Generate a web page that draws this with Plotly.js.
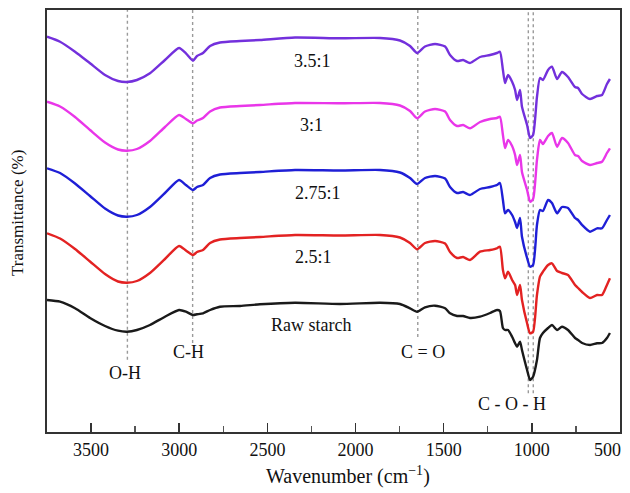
<!DOCTYPE html>
<html>
<head>
<meta charset="utf-8">
<script src="https://cdn.plot.ly/plotly-3.0.1.min.js"></script>
<style>html,body{margin:0;padding:0;background:#fff;}#chart{width:630px;height:493px;}</style>
</head>
<body>
<div id="chart"></div>
<script>
// Wavenumber (cm^-1) sampling shared by all spectra
const wavenumber = [3750,3676,3591,3506,3421,3347,3296,3240,3166,3081,3001,2962,2922,2899,2865,2825,2769,2655,2542,2343,2088,1861,1748,1691,1651,1606,1549,1492,1464,1424,1390,1351,1294,1237,1198,1181,1164,1152,1135,1112,1095,1084,1067,1056,1027,1010,993,971,954,937,908,886,857,829,795,755,738,715,670,630,602,574,557];

// Transmittance (offset, arbitrary units)
const t_35 = [395.3,390.3,380.3,368.7,357,351,350,352,358.7,372,384,378.7,371.3,376,379,386,389.5,391,392,394.5,393.7,394,391.5,386,379,385.5,388,385.5,377,371,372,369,375,377,379,380.3,362,349,357,350.3,342,332,342,325.3,307,294,297,335,354,352,362,365.3,353,360,355,345,344,338,333,336,337,348,353];
const t_30 = [330.3,325.5,315,302,289.5,282.5,281.3,283,291,305,317,313,308.7,311.5,314,320.5,324.5,326,327,329,328.7,329,326.5,321,313.7,320.5,323,320.5,312,306,307,303.7,310,313,314,315.3,297,284,292,286,277,267,277,260,242,230.3,233,272,292,288,296,299,285.3,294,289,277,276,271,267,269,270.3,279,283.7];
const t_275 = [263.7,259,248.5,236,223.5,216.5,215.3,217,225,239,252,247,242,245,247,254,257.5,259,260,262,261.5,262,259.5,254,248,254,256,253.5,245,239,240,237,243,245,247,249,232,218.7,222,217,210,204,214,195.3,174,165.3,167,207,222,221,232,229,218.7,225,224,214,212,207,200.3,203.7,203.7,212,217];
const t_25 = [198.7,193.5,183,170.5,158,150.5,149.3,151,159,173,186,181.5,177,180,182,189,192.5,194,195,197,196.5,197,194.5,189,182.7,189,191,188.5,180,174,175,172,180.3,182,183.7,185.3,162,153.7,160.3,152,147,137,147,132,108.7,98.7,100.3,137,155.3,160.3,167,168.7,161,159,157,147,144,140,134,137,137,147,153.7];
const t_raw = [132,130.3,123.7,114,106,101.3,100.3,102,107,115.3,122,120.3,117,117.7,118.7,122,125.3,126,127.7,129.3,128,129.3,128,123.7,120.3,124.7,126.3,123.7,118.7,116,116,114,115.3,119,122,121,104,102,102,95.3,88.7,85.3,90.3,82,62,52,55.3,72,94,99,104,107,102,105.3,102,94,92,89,87,88.7,89,94,99];

const seriesNames = ['3.5:1','3:1','2.75:1','2.5:1','Raw starch'];
const seriesColors = ['#7330dc','#e936e9','#1f1fd6','#e32222','#1a1a1a'];
const seriesValues = [t_35, t_30, t_275, t_25, t_raw];

// Band positions (cm^-1) and labels
const bandLabels = ['O-H','C-H','C = O','C - O - H'];
const bandLines = [3294, 2924, 1647, 1020, 992];
const xTicks = [3500,3000,2500,2000,1500,1000,500];

const serif = "'Liberation Serif','Times New Roman',Times,serif";

const traces = seriesValues.map((v,i)=>({
  x: wavenumber, y: v, type:'scatter', mode:'lines', name: seriesNames[i],
  line:{color: seriesColors[i], width:2.4, shape:'spline', smoothing:0.6},
  showlegend:false, hoverinfo:'skip'
}));

// dotted guide lines: bottom ends in paper coords
const lineBottoms = [0.171, 0.211, 0.225, 0.092, 0.092];
const shapes = bandLines.map((b,i)=>({
  type:'line', xref:'x', yref:'paper', x0:b, x1:b, y0:lineBottoms[i], y1:1,
  line:{color:'#9a9a9a', width:1.4, dash:'dot'}, layer:'below'
}));

const annPos = [
  {x:3308, y:0.14}, {x:2945, y:0.19}, {x:1615, y:0.19}, {x:1110, y:0.066}
];
const annotations = bandLabels.map((t,i)=>({
  text:t, xref:'x', yref:'paper', x:annPos[i].x, y:annPos[i].y, showarrow:false,
  xanchor:'center', yanchor:'middle',
  font:{family:serif, size:18, color:'#111'}
}));
const seriesLabelY = [0.879, 0.727, 0.566, 0.415, 0.254];
const seriesLabelX = [2245, 2250, 2215, 2240, 2255];
seriesNames.forEach((n,i)=>annotations.push({
  text:n, xref:'x', yref:'paper', x:seriesLabelX[i], y:seriesLabelY[i], showarrow:false,
  xanchor:'center', yanchor:'middle',
  font:{family:serif, size:18, color:'#111'}
}));
// last tick label, drawn inside the figure edge
annotations.push({text:String(xTicks[6]), xref:'paper', yref:'paper', x:1, y:-0.0427,
  xanchor:'right', yanchor:'middle', xshift:3, showarrow:false,
  font:{family:serif, size:18, color:'#111'}});
// axis titles
annotations.push({text:'Wavenumber (cm<sup>\u22121</sup>)', xref:'paper', yref:'paper',
  x:0.526, y:-0.102, xanchor:'center', yanchor:'middle', showarrow:false,
  font:{family:serif, size:20, color:'#111'}});
annotations.push({text:'Transmittance (%)', xref:'paper', yref:'paper',
  x:-0.0506, y:0.519, xanchor:'center', yanchor:'middle', textangle:-90, showarrow:false,
  font:{family:serif, size:17, color:'#111'}});

const layout = {
  width:630, height:493,
  margin:{l:47, r:10, t:10, b:61},
  paper_bgcolor:'#fff', plot_bgcolor:'#fff',
  font:{family:serif, color:'#111'},
  xaxis:{
    range:[3750,500], autorange:false,
    tickvals:xTicks, ticktext:xTicks.map((t,i)=> i===6 ? '' : String(t)),
    ticks:'inside', ticklen:9, tickwidth:1.6, tickcolor:'#333',
    minor:{ticks:'inside', dtick:250, tick0:0, ticklen:6, tickwidth:1.4, tickcolor:'#555'},
    showgrid:false, zeroline:false,
    showline:true, mirror:true, linecolor:'#333', linewidth:2,
    tickfont:{family:serif, size:18, color:'#111'}
  },
  yaxis:{
    range:[0,422], autorange:false,
    showticklabels:false, ticks:'', showgrid:false, zeroline:false,
    showline:true, mirror:true, linecolor:'#333', linewidth:2
  },
  shapes: shapes,
  annotations: annotations
};

Plotly.newPlot('chart', traces, layout, {displayModeBar:false, staticPlot:true});
</script>
</body>
</html>
